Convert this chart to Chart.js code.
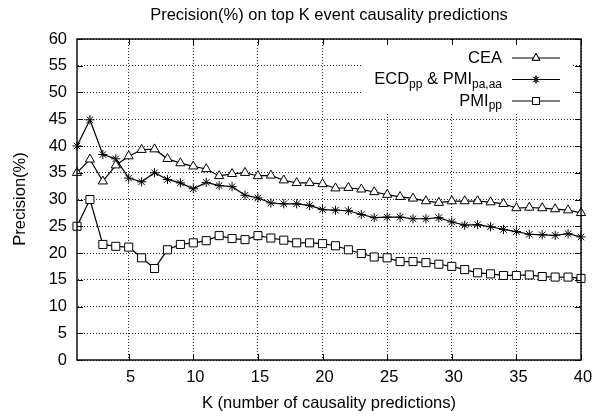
<!DOCTYPE html>
<html>
<head>
<meta charset="utf-8">
<script src="https://cdn.jsdelivr.net/npm/chart.js@4.4.0/dist/chart.umd.min.js"></script>
<style>
  body { margin: 0; background: #fff; }
  #wrap { width: 597px; height: 411px; }
</style>
</head>
<body>
<div id="wrap"><canvas id="precisionChart"></canvas></div>
<script>
// K values and precision
var kValues = [1, 2, 3, 4, 5, 6, 7, 8, 9, 10, 11, 12, 13, 14, 15, 16, 17, 18, 19, 20,
    21, 22, 23, 24, 25, 26, 27, 28, 29, 30, 31, 32, 33, 34, 35, 36, 37, 38, 39, 40];
var ceaValues = [35.0, 37.5, 33.4, 36.4, 38.1, 39.3, 39.4, 37.6, 36.8, 36.2, 35.7, 34.4, 34.8, 35.0, 34.4, 34.5, 33.6, 33.1, 33.1, 32.9,
    32.1, 32.2, 31.9, 31.4, 30.9, 30.5, 30.2, 29.7, 29.4, 29.7, 29.7, 29.7, 29.5, 29.2, 28.4, 28.5, 28.4, 28.2, 28.0, 27.5];
var ecdValues = [40.0, 44.9, 38.4, 37.6, 34.0, 33.3, 35.0, 33.75, 33.1, 32.0, 33.2, 32.6, 32.4, 30.8, 30.3, 29.35, 29.2, 29.2, 28.9, 28.1,
    28.0, 27.9, 27.2, 26.6, 26.7, 26.7, 26.4, 26.4, 26.6, 25.8, 25.2, 25.3, 24.9, 24.4, 24.0, 23.5, 23.4, 23.3, 23.6, 23.0];
var pmiValues = [25.0, 30.0, 21.6, 21.25, 21.1, 19.1, 17.1, 20.6, 21.6, 21.9, 22.3, 23.25, 22.7, 22.5, 23.25, 22.8, 22.4, 21.9, 21.9, 21.75,
    21.35, 20.6, 19.9, 19.25, 19.1, 18.4, 18.4, 18.2, 17.9, 17.5, 16.9, 16.3, 16.1, 15.8, 15.8, 15.9, 15.6, 15.5, 15.5, 15.25];
var xTickValues = [5, 10, 15, 20, 25, 30, 35, 40];
var yTickValues = [0, 5, 10, 15, 20, 25, 30, 35, 40, 45, 50, 55, 60];

// legend labels, [text, isSubscript]
var ceaLabel = [["CEA", false]];
var ecdLabel = [["ECD", false], ["pp", true], [" & PMI", false], ["pa,aa", true]];
var pmiLabel = [["PMI", false], ["pp", true]];

var chartTitle = "Precision(%) on top K event causality predictions";
var xTitle = "K (number of causality predictions)";
var yTitle = "Precision(%)";

var FONT = '"Liberation Sans", Arial, Helvetica, sans-serif';
var MAIN_SIZE = 16.5;
var SUB_SIZE = 12;

function toPoints(ys) {
    return kValues.map(function (k, i) { return { x: k, y: ys[i] }; });
}

function makeDataset(label, parts, ys, style, radius) {
    return {
        label: label,
        legendParts: parts,
        data: toPoints(ys),
        borderColor: '#000',
        borderWidth: 1.2,
        pointStyle: style,
        pointRadius: radius,
        pointHoverRadius: radius,
        pointBorderWidth: 1,
        pointBorderColor: '#000',
        pointBackgroundColor: style == 'star' ? '#000' : '#fff',
        tension: 0,
        fill: false,
        clip: false
    };
}

function drawParts(ctx, parts, rightX, y) {
    let total = 0;
    parts.forEach(function (p) {
        ctx.font = (p[1] ? SUB_SIZE : MAIN_SIZE) + 'px ' + FONT;
        total += ctx.measureText(p[0]).width;
    });
    let x = rightX - total;
    parts.forEach(function (p) {
        ctx.font = (p[1] ? SUB_SIZE : MAIN_SIZE) + 'px ' + FONT;
        ctx.fillText(p[0], x, y + (p[1] ? 5 : 0));
        x += ctx.measureText(p[0]).width;
    });
}

var gnuplotFrame = {
    id: 'gnuplotFrame',
    beforeDatasetsDraw: function (chart) {
        // white key box hides the grid behind it
        const ctx = chart.ctx;
        ctx.save();
        ctx.fillStyle = '#fff';
        ctx.fillRect(363, chart.chartArea.top + 1, 209, 73);
        ctx.restore();
    },
    afterDraw: function (chart) {
        const ctx = chart.ctx;
        const a = chart.chartArea;
        const xs = chart.scales.x;
        const ys = chart.scales.y;
        ctx.save();
        ctx.strokeStyle = '#000';
        ctx.lineWidth = 1;

        // inward ticks on all sides
        ctx.beginPath();
        xTickValues.forEach(function (v) {
            let px = Math.round(xs.getPixelForValue(v)) + 0.5;
            ctx.moveTo(px, a.bottom); ctx.lineTo(px, a.bottom - 6);
            ctx.moveTo(px, a.top); ctx.lineTo(px, a.top + 6);
        });
        yTickValues.forEach(function (v) {
            let py = Math.round(ys.getPixelForValue(v)) + 0.5;
            ctx.moveTo(a.left, py); ctx.lineTo(a.left + 6, py);
            ctx.moveTo(a.right, py); ctx.lineTo(a.right - 6, py);
        });
        ctx.stroke();

        // frame
        ctx.lineWidth = 1.4;
        ctx.strokeRect(a.left, a.top, a.right - a.left, a.bottom - a.top);

        // tick labels
        ctx.fillStyle = '#000';
        ctx.font = MAIN_SIZE + 'px ' + FONT;
        ctx.textBaseline = 'middle';
        ctx.textAlign = 'right';
        yTickValues.forEach(function (v) {
            ctx.fillText(String(v), a.left - 10, ys.getPixelForValue(v));
        });
        ctx.textAlign = 'center';
        xTickValues.forEach(function (v) {
            ctx.fillText(String(v), xs.getPixelForValue(v) + 2, a.bottom + 17);
        });

        // titles
        let cx = (a.left + a.right) / 2;
        ctx.fillText(chartTitle, cx, 15);
        ctx.fillText(xTitle, cx, 403);
        ctx.save();
        ctx.translate(20, 199);
        ctx.rotate(-Math.PI / 2);
        ctx.fillText(yTitle, 0, 0);
        ctx.restore();

        // key
        const rowY = [58, 79.5, 101];
        ctx.textAlign = 'left';
        chart.data.datasets.forEach(function (ds, i) {
            let y = rowY[i];
            drawParts(ctx, ds.legendParts, 502, y);
            ctx.lineWidth = 1.2;
            ctx.strokeStyle = '#000';
            ctx.beginPath();
            ctx.moveTo(512, y); ctx.lineTo(560, y);
            ctx.stroke();
            ctx.lineWidth = 1;
            ctx.fillStyle = ds.pointBackgroundColor;
            Chart.helpers.drawPoint(ctx, { pointStyle: ds.pointStyle, radius: ds.pointRadius - 0.8, borderWidth: 1 }, 536, y);
            ctx.fill();
            ctx.stroke();
            ctx.fillStyle = '#000';
        });
        ctx.restore();
    }
};

var dottedBorder = { display: true, color: 'rgba(0,0,0,0)', dash: [1, 2] };

var ctxPrecision = document.getElementById('precisionChart').getContext('2d');
var precisionChart = new Chart(ctxPrecision, {
    type: 'line',
    data: {
        datasets: [
            makeDataset("CEA", ceaLabel, ceaValues, 'triangle', 5.3),
            makeDataset("ECD_pp & PMI_pa,aa", ecdLabel, ecdValues, 'star', 4.6),
            makeDataset("PMI_pp", pmiLabel, pmiValues, 'rect', 5.7)
        ]
    },
    options: {
        responsive: true,
        maintainAspectRatio: false,
        animation: false,
        layout: { padding: { top: 39, right: 16, left: 0, bottom: 0 } },
        plugins: {
            legend: { display: false },
            title: { display: false },
            tooltip: { enabled: false }
        },
        scales: {
            x: {
                type: 'linear',
                min: 1,
                max: 40,
                afterBuildTicks: function (scale) {
                    scale.ticks = xTickValues.map(function (v) { return { value: v }; });
                },
                afterFit: function (scale) { scale.height = 51; },
                ticks: { display: false },
                border: dottedBorder,
                grid: {
                    drawTicks: false,
                    color: '#222',
                    lineWidth: 1
                }
            },
            y: {
                min: 0,
                max: 60,
                afterBuildTicks: function (scale) {
                    scale.ticks = yTickValues.map(function (v) { return { value: v }; });
                },
                afterFit: function (scale) { scale.width = 77; },
                ticks: { display: false },
                border: dottedBorder,
                grid: {
                    drawTicks: false,
                    color: '#222',
                    lineWidth: 1
                }
            }
        }
    },
    plugins: [gnuplotFrame]
});
</script>
</body>
</html>
